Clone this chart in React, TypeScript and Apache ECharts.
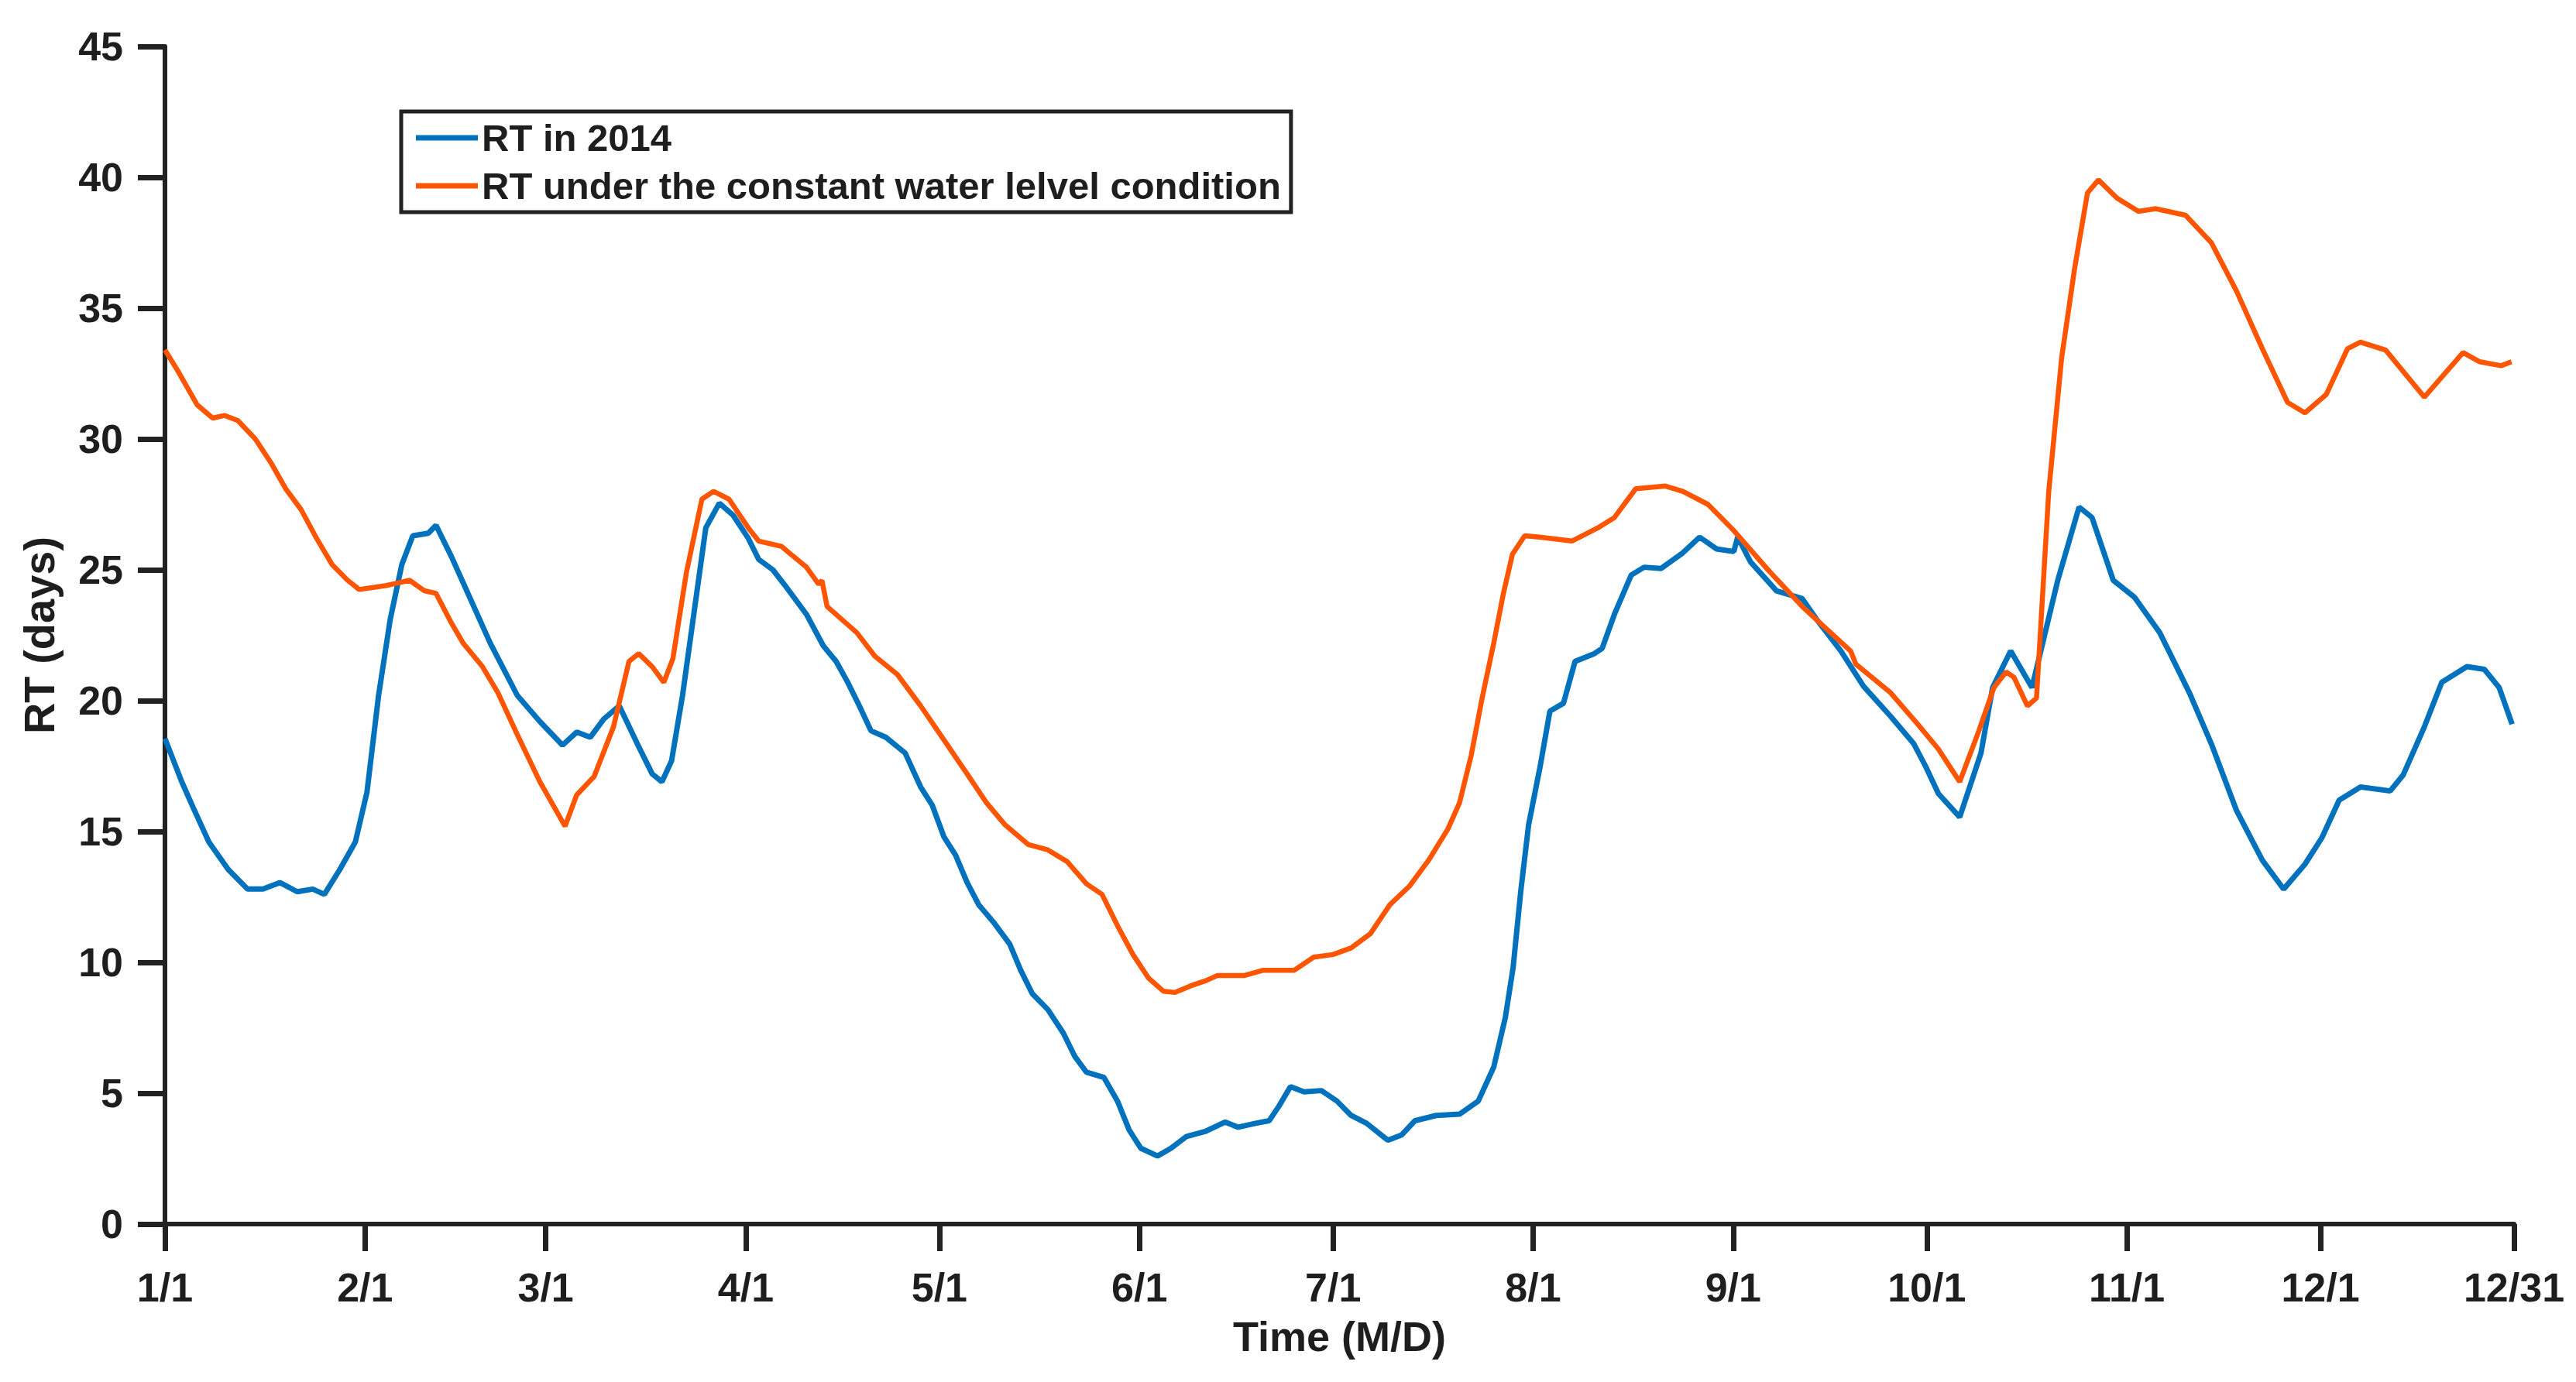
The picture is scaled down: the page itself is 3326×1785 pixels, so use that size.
import React, { useEffect, useRef } from "react";
import * as echarts from "echarts";

const monthTickDays = [0, 31, 59, 90, 120, 151, 181, 212, 243, 273, 304, 334, 364];
const monthTickLabels = ["1/1", "2/1", "3/1", "4/1", "5/1", "6/1", "7/1", "8/1", "9/1", "10/1", "11/1", "12/1", "12/31"];
const yTicks = [0, 5, 10, 15, 20, 25, 30, 35, 40, 45];

const seriesNames = ["RT in 2014", "RT under the constant water lelvel condition"];

const blueDays = [
  0, 2.6, 4.4, 6.8, 9.8, 12.8, 15.2, 17.8, 20.5, 22.9, 24.7, 27.1, 29.5, 31.3, 33.1, 34.9, 36.7, 38.4, 40.8, 42,
  44.4, 47.4, 50.4, 54.6, 58.1, 61.6, 63.8, 65.9, 68, 70.4, 73.1, 75.5, 77, 78.5, 80.2, 82, 83.8, 85.9, 88, 90.4,
  92, 94.2, 96.1, 99.4, 102, 104, 105.8, 107.6, 109.4, 111.7, 114.7, 117.1, 118.9, 120.7, 122.5, 124.3, 126.1, 128.5, 130.9, 132.6,
  134.4, 136.8, 139.2, 141, 142.8, 145.5, 147.6, 149.4, 151.2, 153.8, 155.9, 158.3, 161.3, 164.3, 166.3, 169, 171.1, 172.6, 174.4, 176.5,
  179.2, 181.6, 183.8, 186.2, 189.5, 191.6, 193.7, 197, 200.6, 203.5, 205.9, 207.7, 208.9, 210.1, 211.3, 213.1, 214.6, 216.7, 218.5, 221.5,
  222.7, 224.6, 227.2, 229.2, 231.8, 235.2, 237.8, 240.4, 243.1, 243.7, 245.7, 249.7, 253.7, 256.1, 259.7, 263.2, 267.4, 271, 272.8, 274.8,
  278.1, 281.4, 283.2, 286, 289.3, 293.3, 296.6, 298.6, 301.9, 305.2, 309.1, 313.7, 317.1, 321, 325, 328.3, 331.6, 334.2, 336.9, 340.2,
  344.8, 346.8, 350.1, 352.8, 356.7, 359.4, 361.7, 363.7,
];
const blueValues = [
  18.55, 16.9, 15.9, 14.6, 13.55, 12.8, 12.8, 13.05, 12.7, 12.8, 12.6, 13.55, 14.6, 16.5, 20.2, 23.1, 25.2, 26.3, 26.4, 26.7,
  25.5, 23.85, 22.2, 20.2, 19.2, 18.3, 18.8, 18.6, 19.3, 19.8, 18.4, 17.2, 16.9, 17.7, 20.2, 23.4, 26.6, 27.55, 27.1, 26.2,
  25.4, 25.0, 24.4, 23.3, 22.1, 21.5, 20.7, 19.8, 18.85, 18.6, 18.0, 16.7, 16.0, 14.8, 14.1, 13.05, 12.2, 11.5, 10.7, 9.7,
  8.8, 8.2, 7.3, 6.4, 5.8, 5.6, 4.7, 3.6, 2.9, 2.6, 2.9, 3.35, 3.55, 3.9, 3.7, 3.85, 3.95, 4.5, 5.25, 5.05,
  5.1, 4.7, 4.15, 3.85, 3.2, 3.4, 3.95, 4.15, 4.2, 4.7, 6.0, 7.9, 9.8, 12.75, 15.25, 17.5, 19.6, 19.9, 21.5, 21.8,
  22.0, 23.3, 24.8, 25.1, 25.05, 25.65, 26.25, 25.8, 25.7, 26.25, 25.3, 24.2, 23.9, 23.05, 21.9, 20.55, 19.4, 18.35, 17.5, 16.45,
  15.55, 18.0, 20.5, 21.9, 20.5, 24.6, 27.4, 27.0, 24.6, 23.95, 22.6, 20.3, 18.35, 15.8, 13.9, 12.8, 13.75, 14.75, 16.2, 16.7,
  16.55, 17.15, 19.0, 20.7, 21.3, 21.2, 20.5, 19.1,
];

const orangeDays = [
  0, 2, 5, 7.4, 9.2, 11.3, 14, 16.4, 18.7, 21.1, 23.5, 25.9, 28.3, 30.1, 34.3, 37.9, 40.2, 42, 44.4, 46.2,
  49.2, 51.6, 54.6, 58.1, 62, 63.8, 66.5, 69.5, 71.9, 73.4, 75.5, 77.3, 78.7, 80.8, 83.2, 85, 87.4, 90.4, 92, 95.5,
  99.4, 101.3, 101.8, 102.6, 107.2, 110, 113.5, 117.1, 120.7, 124.3, 127.3, 130.2, 133.8, 136.8, 139.8, 142.8, 145.2, 147.6, 150, 152.4,
  154.7, 156.5, 158.9, 161.3, 163.1, 167.3, 170.2, 175, 178, 181, 183.8, 186.8, 189.8, 192.8, 195.8, 198.8, 200.6, 202.4, 204.1, 205.9,
  207.4, 208.8, 210.7, 213, 218, 222, 224.6, 227.9, 232.5, 235.2, 239.1, 243.1, 248.4, 253.7, 256.1, 261.2, 262, 267.4, 271.6, 274.8,
  278.1, 281, 283.4, 285.3, 286.5, 288.6, 290, 291.9, 293.9, 295.9, 297.9, 299.6, 302.5, 305.8, 308.5, 313.1, 317.1, 321, 325, 328.9,
  331.6, 334.9, 338.2, 340.2, 344.1, 350.1, 356.1, 358.7, 362, 363.6,
];
const orangeValues = [
  33.4, 32.6, 31.3, 30.8, 30.9, 30.7, 30.0, 29.1, 28.1, 27.3, 26.2, 25.2, 24.6, 24.25, 24.4, 24.6, 24.2, 24.1, 22.96, 22.2,
  21.3, 20.3, 18.7, 16.9, 15.2, 16.4, 17.1, 19.0, 21.5, 21.8, 21.3, 20.7, 21.6, 24.9, 27.7, 28.0, 27.7, 26.6, 26.1, 25.9,
  25.1, 24.45, 24.6, 23.6, 22.6, 21.7, 21.0, 19.8, 18.5, 17.2, 16.1, 15.25, 14.5, 14.3, 13.85, 13.0, 12.6, 11.4, 10.3, 9.4,
  8.9, 8.85, 9.1, 9.3, 9.5, 9.5, 9.7, 9.7, 10.2, 10.3, 10.55, 11.1, 12.2, 12.9, 13.9, 15.1, 16.1, 17.9, 20.1, 22.2,
  24.1, 25.6, 26.3, 26.25, 26.1, 26.6, 27.0, 28.1, 28.2, 28.0, 27.5, 26.5, 25.0, 23.6, 23.05, 21.9, 21.4, 20.3, 19.1, 18.15,
  16.9, 18.8, 20.5, 21.1, 20.9, 19.8, 20.1, 28.0, 33.1, 36.5, 39.4, 39.9, 39.2, 38.7, 38.8, 38.55, 37.5, 35.65, 33.45, 31.4,
  31.0, 31.7, 33.45, 33.7, 33.4, 31.6, 33.3, 32.95, 32.8, 32.95,
];

const FONT = "'Liberation Sans', Arial, Helvetica, sans-serif";
const INK = "#1e1e1e";

export default function App() {
  const ref = useRef<HTMLDivElement>(null);

  useEffect(() => {
    if (!ref.current) return;
    const chart = echarts.init(ref.current, null, { renderer: "svg" });
    const blueData = blueDays.map((d, i) => [d, blueValues[i]]);
    const orangeData = orangeDays.map((d, i) => [d, orangeValues[i]]);

    chart.setOption({
      animation: false,
      backgroundColor: "#ffffff",
      grid: { left: 213, right: 80, top: 60, bottom: 204, containLabel: false },
      legend: {
        orient: "vertical",
        left: 518,
        top: 144,
        padding: [9, 13, 9, 19],
        itemGap: 12,
        itemWidth: 80,
        itemHeight: 7,
        icon: "rect",
        borderColor: "#222222",
        borderWidth: 5,
        backgroundColor: "#ffffff",
        textStyle: { fontSize: 49, fontWeight: "bold", fontFamily: FONT, color: INK, lineHeight: 50 },
        data: seriesNames,
      },
      xAxis: {
        type: "value",
        min: 0,
        max: 364,
        name: "Time (M/D)",
        nameLocation: "middle",
        nameGap: 118,
        nameTextStyle: { fontSize: 54, fontWeight: "bold", fontFamily: FONT, color: INK },
        axisLine: { show: true, lineStyle: { color: "#222222", width: 6 } },
        axisTick: { show: true, length: 35, customValues: monthTickDays, lineStyle: { color: "#222222", width: 7 } },
        axisLabel: {
          show: true,
          customValues: monthTickDays,
          margin: 56,
          fontSize: 52,
          fontWeight: "bold",
          fontFamily: FONT,
          color: INK,
          formatter: (v: number) => {
            const i = monthTickDays.indexOf(Math.round(v));
            return i >= 0 ? monthTickLabels[i] : "";
          },
        },
        splitLine: { show: false },
      },
      yAxis: {
        type: "value",
        min: 0,
        max: 45,
        interval: 5,
        name: "RT (days)",
        nameLocation: "middle",
        nameGap: 135,
        nameTextStyle: { fontSize: 56, fontWeight: "bold", fontFamily: FONT, color: INK },
        axisLine: { show: true, lineStyle: { color: "#222222", width: 6 } },
        axisTick: { show: true, length: 35, lineStyle: { color: "#222222", width: 7 } },
        axisLabel: {
          margin: 54,
          fontSize: 52,
          fontWeight: "bold",
          fontFamily: FONT,
          color: INK,
          formatter: (v: number) => (yTicks.indexOf(v) >= 0 ? String(v) : ""),
        },
        splitLine: { show: false },
      },
      series: [
        {
          name: seriesNames[0],
          type: "line",
          data: blueData,
          showSymbol: false,
          symbol: "none",
          smooth: false,
          color: "#0072BD",
          lineStyle: { color: "#0072BD", width: 7 },
          z: 2,
        },
        {
          name: seriesNames[1],
          type: "line",
          data: orangeData,
          showSymbol: false,
          symbol: "none",
          smooth: false,
          color: "#FF5500",
          lineStyle: { color: "#FF5500", width: 6.5 },
          z: 3,
        },
      ],
    });

    return () => {
      chart.dispose();
    };
  }, []);

  return (
    <div
      ref={ref}
      style={{ position: "fixed", left: 0, top: 0, width: "3326px", height: "1785px", background: "#ffffff" }}
    />
  );
}
